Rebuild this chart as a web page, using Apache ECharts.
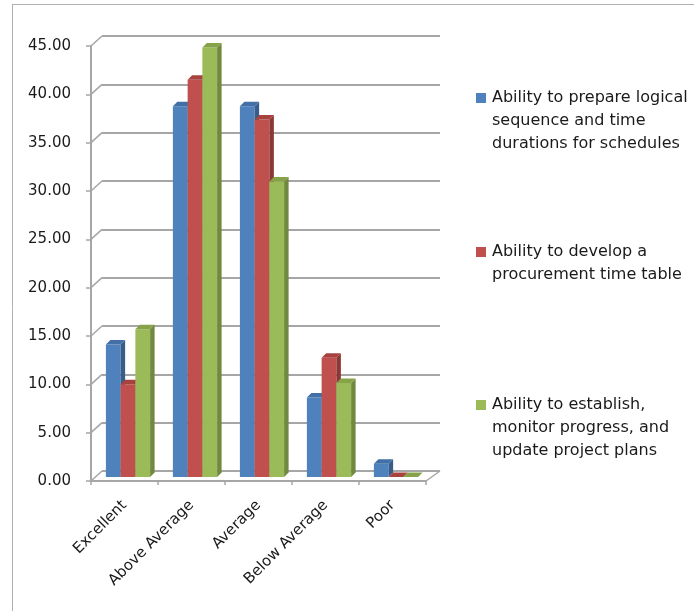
<!DOCTYPE html>
<html><head><meta charset="utf-8">
<script src="https://cdn.jsdelivr.net/npm/echarts@6/dist/echarts.min.js"></script>
<style>html,body{margin:0;padding:0;background:#fff}#c{width:694px;height:611px}</style>
</head><body><div id="c"></div>
<script>
// ---- data ----
const categories = ['Excellent', 'Above Average', 'Average', 'Below Average', 'Poor'];
const seriesNames = [
  'Ability to prepare logical\nsequence and time\ndurations for schedules',
  'Ability to develop a\nprocurement time table',
  'Ability to establish,\nmonitor progress, and\nupdate project plans'
];
const prepareLogical = [13.70, 38.36, 38.36, 8.22, 1.37];
const developProcurement = [9.59, 41.10, 36.99, 12.33, 0];
const establishMonitor = [15.28, 44.44, 30.56, 9.72, 0];
const yTicks = [0, 5, 10, 15, 20, 25, 30, 35, 40, 45];

// ---- styles ----
const frontColors = ['#4F81BD', '#C0504D', '#9BBB59'];
const topColors = ['#416FA6', '#A8423F', '#86A349'];
const sideColors = ['#385D8A', '#8C3836', '#71893F'];
const gridGray = '#A6A6A6';
const FONT = 'DejaVu Sans';

const allSeries = [prepareLogical, developProcurement, establishMonitor];

function barRenderer(si) {
  return function (params, api) {
    const i = api.value(0), v = api.value(1);
    const base = api.coord([i, 0]);
    const top = api.coord([i, v]);
    const band = api.size([1, 0])[0];
    const bw = band * 0.22;
    const x = base[0] - 1.5 * bw + si * bw + 3.5;
    const y0 = base[1] - 4, y1 = top[1] - 4;
    const dx = 4.5, dy = -4.5;
    return {
      type: 'group', children: [
        { type: 'rect', shape: { x: x, y: y1, width: bw, height: y0 - y1 }, style: { fill: frontColors[si] } },
        { type: 'polygon', shape: { points: [[x + bw, y1], [x + bw + dx, y1 + dy], [x + bw + dx, y0 + dy], [x + bw, y0]] }, style: { fill: sideColors[si] } },
        { type: 'polygon', shape: { points: [[x, y1], [x + bw, y1], [x + bw + dx, y1 + dy], [x + dx, y1 + dy]] }, style: { fill: topColors[si] } }
      ]
    };
  };
}

const series = [];
// depth connectors from the front axis to the back wall
series.push({
  type: 'custom', xAxisIndex: 0, yAxisIndex: 0, silent: true, z: 1,
  data: yTicks.map(v => [0, v]),
  renderItem: function (params, api) {
    const p = api.coord([0, api.value(1)]);
    const left = p[0] - api.size([1, 0])[0] / 2;
    return { type: 'line', shape: { x1: left, y1: p[1], x2: left + 11, y2: p[1] - 10 }, style: { stroke: gridGray, lineWidth: 1.5 } };
  }
});
// right floor edge
series.push({
  type: 'custom', xAxisIndex: 0, yAxisIndex: 0, silent: true, z: 1,
  data: [[categories.length - 1, 0]],
  renderItem: function (params, api) {
    const p = api.coord([api.value(0), 0]);
    const right = p[0] + api.size([1, 0])[0] / 2;
    return { type: 'line', shape: { x1: right, y1: p[1], x2: right + 14, y2: p[1] - 10 }, style: { stroke: gridGray, lineWidth: 1.5 } };
  }
});
allSeries.forEach((vals, si) => {
  series.push({
    type: 'custom', name: seriesNames[si], xAxisIndex: 0, yAxisIndex: 0, z: 3 + si,
    data: vals.map((v, i) => [i, v]),
    encode: { x: 0, y: 1 },
    renderItem: barRenderer(si)
  });
});

const graphic = [
  { type: 'line', shape: { x1: 12.5, y1: 4.5, x2: 12.5, y2: 611 }, style: { stroke: '#B0B0B0', lineWidth: 1 } },
  { type: 'line', shape: { x1: 12, y1: 4.5, x2: 694, y2: 4.5 }, style: { stroke: '#B0B0B0', lineWidth: 1 } }
];
const legendY = [98, 252, 405];
seriesNames.forEach((n, si) => {
  graphic.push({ type: 'rect', shape: { x: 476, y: legendY[si] - 5, width: 10, height: 10 }, style: { fill: frontColors[si] } });
  graphic.push({ type: 'text', x: 492, y: legendY[si] - 11.5, style: { text: n, fontFamily: FONT, fontSize: 16, lineHeight: 23, fill: '#1a1a1a', verticalAlign: 'top' } });
});

const option = {
  animation: false,
  backgroundColor: '#fff',
  grid: [
    { left: 91, top: 46, width: 335, height: 435 },
    { left: 102, top: 36, width: 338, height: 435 }
  ],
  xAxis: [
    {
      type: 'category', gridIndex: 0, data: categories,
      axisLine: { lineStyle: { color: gridGray, width: 2 } },
      axisTick: { show: true, length: 4, lineStyle: { color: gridGray, width: 1.5 } },
      axisLabel: { interval: 0, rotate: 45, margin: 22, fontFamily: FONT, fontSize: 15, color: '#1a1a1a' }
    },
    {
      type: 'category', gridIndex: 1, data: categories,
      axisLine: { show: false }, axisTick: { show: false }, axisLabel: { show: false }
    }
  ],
  yAxis: [
    {
      type: 'value', gridIndex: 0, min: 0, max: 45, interval: 5,
      axisLine: { show: true, lineStyle: { color: gridGray, width: 2 } },
      axisTick: { show: true, length: 5, lineStyle: { color: gridGray, width: 1.5 } },
      splitLine: { show: false },
      axisLabel: { margin: 20, fontFamily: FONT, fontSize: 15, color: '#1a1a1a', formatter: v => v.toFixed(2) }
    },
    {
      type: 'value', gridIndex: 1, min: 0, max: 45, interval: 5,
      axisLine: { show: false }, axisTick: { show: false }, axisLabel: { show: false },
      splitLine: { show: true, lineStyle: { color: gridGray, width: 2 } }
    }
  ],
  graphic: graphic,
  series: series
};
const chart = echarts.init(document.getElementById('c'), null, { renderer: 'canvas' });
chart.setOption(option);
</script>
</body></html>
